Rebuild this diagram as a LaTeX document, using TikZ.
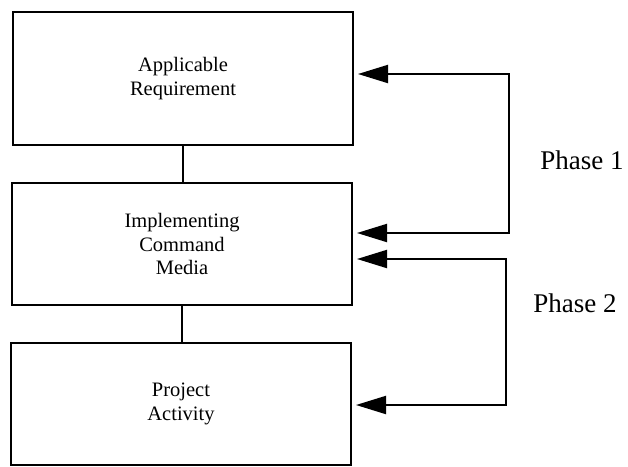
\documentclass[tikz,border=0pt]{standalone}
\usepackage{fontspec}
\setmainfont{Liberation Serif}
\usetikzlibrary{positioning,calc,arrows.meta}

\begin{document}
\begin{tikzpicture}[x=1pt,y=-1pt]
            \tikzstyle{stage}=[rectangle, draw, line width=2pt,
            minimum width=340pt, minimum height=122pt, align=center,
            font=\fontsize{20.5}{23.5}\selectfont, inner sep=0pt]
            \tikzstyle{feed}=[line width=2pt,
            {Triangle[length=30pt,width=18pt]}-{Triangle[length=30pt,width=18pt]},
            shorten <=4pt, shorten >=4pt]
            \useasboundingbox (0,0) rectangle (628,466);
            \node[stage, minimum height=133pt] (req) at (183,78.5)
                {Applicable\\Requirement};
            \node[stage] (media) at (182,244) {Implementing\\Command\\Media};
            \node[stage] (proj) at (181,404) {Project\\Activity};
            \coordinate (turnA) at (509,0);
            \coordinate (turnB) at (506,0);
            \path
            (req) edge [line width=1.5pt] (req |- media.north)
            (media) edge [line width=1.5pt] (media |- proj.north);
            \draw[feed] ([yshift=4.5pt]req.east) -- ([yshift=4.5pt]req.east -| turnA)
                -- ([yshift=11pt]media.east -| turnA) -- ([yshift=11pt]media.east);
            \draw[feed] ([yshift=-15pt]media.east) -- ([yshift=-15pt]media.east -| turnB)
                -- ([yshift=-1pt]proj.east -| turnB) -- ([yshift=-1pt]proj.east);
            \node[font=\fontsize{27}{30}\selectfont] (ph1) at (582,160) {Phase 1};
            \node[font=\fontsize{27}{30}\selectfont] (ph2) at (575,303) {Phase 2};
        \end{tikzpicture}
\end{document}
